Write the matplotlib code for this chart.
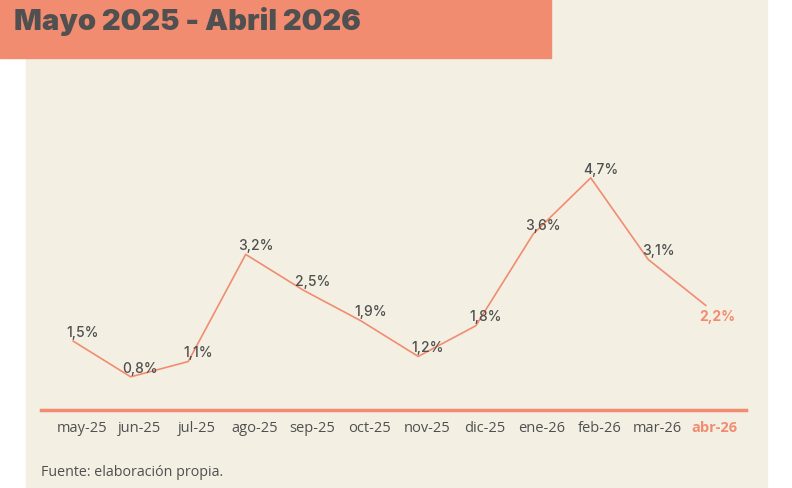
import matplotlib.pyplot as plt
from matplotlib.patches import Rectangle

# datos
meses = ['may-25', 'jun-25', 'jul-25', 'ago-25', 'sep-25', 'oct-25',
         'nov-25', 'dic-25', 'ene-26', 'feb-26', 'mar-26', 'abr-26']
valores = [1.5, 0.8, 1.1, 3.2, 2.5, 1.9, 1.2, 1.8, 3.6, 4.7, 3.1, 2.2]
etiquetas = ['1,5%', '0,8%', '1,1%', '3,2%', '2,5%', '1,9%',
             '1,2%', '1,8%', '3,6%', '4,7%', '3,1%', '2,2%']

salmon = '#F28C70'
beige = '#F3EFE3'
gris = '#505050'

plt.rcParams['font.family'] = ['Open Sans', 'DejaVu Sans']

W, H = 792, 488
fig = plt.figure(figsize=(W / 100, H / 100), dpi=100, facecolor='white')

# fondo beige y banda del titulo
fig.patches.append(Rectangle((26 / W, 0), (767 - 26) / W, 1,
                             transform=fig.transFigure, color=beige, zorder=-3))
fig.patches.append(Rectangle((0, 1 - 58 / H), 551 / W, 58 / H,
                             transform=fig.transFigure, color=salmon, zorder=-2))
fig.text(14 / W, 1 - 22 / H, 'Mayo 2025 - Abril 2026', fontsize=21,
         fontweight='black', family=['Inter', 'DejaVu Sans'], color=gris,
         va='center', ha='left')

ax = fig.add_axes([41 / W, 1 - 410 / H, (746 - 41) / W, (410 - 58) / H])
ax.set_facecolor('none')
x = list(range(len(meses)))
ax.plot(x, valores, color=salmon, lw=1.2)
ax.set_xlim(-0.56, 11.7)
ax.set_ylim(0.15, 7.05)

for i, (v, t) in enumerate(zip(valores, etiquetas)):
    if i == len(valores) - 1:
        ax.annotate(t, (i, v), xytext=(8, -8), textcoords='offset points',
                    ha='center', va='center', fontsize=10, color=salmon,
                    fontweight='bold', family=['Inter', 'DejaVu Sans'])
    else:
        ax.annotate(t, (i, v), xytext=(7, 6), textcoords='offset points',
                    ha='center', va='center', fontsize=10, color=gris,
                    fontweight='medium', family=['Inter', 'DejaVu Sans'])

for s in ['top', 'right', 'left']:
    ax.spines[s].set_visible(False)
ax.spines['bottom'].set_color(salmon)
ax.spines['bottom'].set_linewidth(2.5)
ax.set_yticks([])
ax.set_xticks([i + 0.15 for i in x])
ax.set_xticklabels(meses, fontsize=10.5, color=gris)
ax.tick_params(axis='x', length=0, pad=8)
ax.get_xticklabels()[-1].set_color(salmon)
ax.get_xticklabels()[-1].set_fontweight('bold')

fig.text(41 / W, 1 - 473 / H, 'Fuente: elaboración propia.', fontsize=10.3,
         color=gris, va='center', ha='left')

fig.savefig('out.png', dpi=100)
